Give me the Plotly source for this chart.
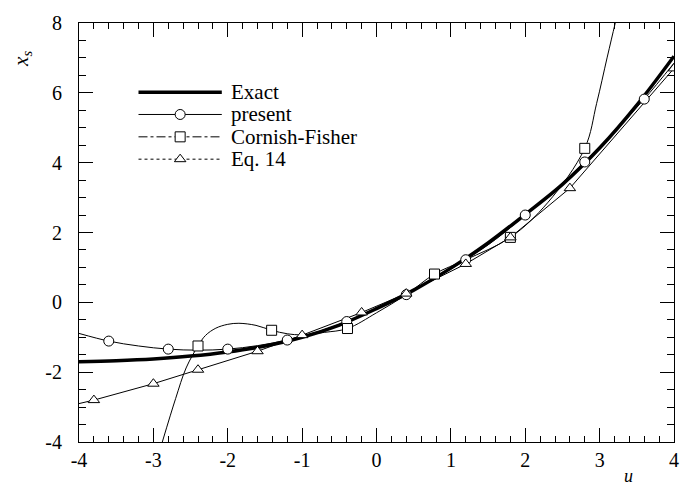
import plotly.graph_objects as go

# ---- data ----
exact_u = [-4, -3.5, -3, -2.5, -2, -1.5, -1, -0.5, 0, 0.5, 1, 1.5, 2, 2.5, 3, 3.5, 4]
exact_x = [-1.70, -1.67, -1.62, -1.54, -1.42, -1.25, -1.0, -0.65, -0.18, 0.35, 0.98, 1.70, 2.52, 3.38, 4.42, 5.65, 7.05]

present_u = [-4, -3.6, -3.2, -2.8, -2.4, -2.0, -1.6, -1.2, -0.8, -0.4, 0, 0.4, 0.8, 1.2, 1.6, 2.0, 2.4, 2.8, 3.2, 3.6, 4.0]
present_x = [-0.89, -1.11, -1.25, -1.34, -1.37, -1.34, -1.24, -1.08, -0.85, -0.55, -0.18, 0.22, 0.70, 1.22, 1.80, 2.50, 3.22, 4.02, 4.90, 5.82, 6.85]
present_mu = [-3.6, -2.8, -2.0, -1.2, -0.4, 0.4, 1.2, 2.0, 2.8, 3.6]
present_mx = [-1.11, -1.34, -1.34, -1.08, -0.55, 0.22, 1.22, 2.50, 4.02, 5.82]

cf_u = [-2.88, -2.7, -2.56, -2.4, -2.3, -2.16, -2.0, -1.85, -1.62, -1.41, -1.2, -1.0, -0.7, -0.39, 0.0, 0.4, 0.78, 1.2, 1.8, 2.3, 2.8, 2.96, 3.1, 3.21, 3.3]
cf_x = [-4.0, -2.75, -1.88, -1.25, -0.95, -0.74, -0.63, -0.60, -0.66, -0.80, -0.90, -0.93, -0.86, -0.75, -0.30, 0.22, 0.81, 1.22, 1.86, 2.85, 4.41, 5.70, 7.00, 8.00, 8.8]
cf_mu = [-2.4, -1.41, -0.39, 0.78, 1.8, 2.8]
cf_mx = [-1.25, -0.80, -0.75, 0.81, 1.86, 4.41]

eq_u = [-4.0, -3.8, -3.0, -2.4, -1.6, -1.0, -0.2, 0.4, 1.2, 1.8, 2.6, 4.0]
eq_x = [-2.90, -2.80, -2.33, -1.93, -1.40, -0.94, -0.29, 0.25, 1.10, 1.86, 3.27, 6.70]
eq_mu = [-3.8, -3.0, -2.4, -1.6, -1.0, -0.2, 0.4, 1.2, 1.8, 2.6, 4.0]
eq_mx = [-2.80, -2.33, -1.93, -1.40, -0.94, -0.29, 0.25, 1.10, 1.86, 3.27, 6.70]

x_ticks = [-4, -3, -2, -1, 0, 1, 2, 3, 4]
y_ticks = [-4, -2, 0, 2, 4, 6, 8]
legend_names = ["Exact", "present", "Cornish-Fisher", "Eq. 14"]

FONT = "Liberation Serif"
fig = go.Figure()

thin = dict(color="black", width=1)
mk = dict(color="white", size=10, line=dict(color="black", width=1))

fig.add_trace(go.Scatter(x=present_u, y=present_x, mode="lines", line=dict(shape="spline", **thin), showlegend=False))
fig.add_trace(go.Scatter(x=cf_u, y=cf_x, mode="lines", line=dict(shape="spline", **thin), showlegend=False))
fig.add_trace(go.Scatter(x=eq_u, y=eq_x, mode="lines", line=thin, showlegend=False))
fig.add_trace(go.Scatter(x=exact_u, y=exact_x, mode="lines", line=dict(color="black", width=3.5, shape="spline"), showlegend=False))
fig.add_trace(go.Scatter(x=present_mu, y=present_mx, mode="markers", marker=dict(symbol="circle", **mk), showlegend=False))
fig.add_trace(go.Scatter(x=cf_mu, y=cf_mx, mode="markers", marker=dict(symbol="square", **mk), showlegend=False))
fig.add_trace(go.Scatter(x=eq_mu, y=eq_mx, mode="markers", marker=dict(symbol="triangle-up", **mk), showlegend=False))

# ---- manual legend (data coordinates inside plot area) ----
leg_x0, leg_x1, leg_xm, leg_xt = -3.20, -2.08, -2.64, -1.98
leg_rows = [6.02, 5.38, 4.74, 4.10]
leg_widths = [3.5, 1, 1, 1]
leg_dash = ["solid", "solid", "dashdot", "dot"]
leg_symbols = [None, "circle", "square", "triangle-up"]
for name, yy, w, d, s in zip(legend_names, leg_rows, leg_widths, leg_dash, leg_symbols):
    fig.add_trace(go.Scatter(x=[leg_x0, leg_x1], y=[yy, yy], mode="lines",
                             line=dict(color="black", width=w, dash=d), showlegend=False))
    if s:
        fig.add_trace(go.Scatter(x=[leg_xm], y=[yy], mode="markers",
                                 marker=dict(symbol=s, **mk), showlegend=False))
    fig.add_annotation(x=leg_xt, y=yy, text=name, showarrow=False, xanchor="left",
                       yanchor="middle", font=dict(family=FONT, size=21, color="black"))

axis_common = dict(showgrid=False, zeroline=False, showline=True, linecolor="black", linewidth=1,
                   mirror="ticks", ticks="inside", ticklen=14, tickwidth=1, tickcolor="black",
                   tickfont=dict(family=FONT, size=20, color="black"))
fig.update_xaxes(range=[-4, 4], tickvals=x_ticks, ticktext=[str(v) for v in x_ticks],
                 minor=dict(dtick=0.2, ticks="inside", ticklen=6, tickcolor="black", tickwidth=1),
                 **axis_common)
fig.update_yaxes(range=[-4, 8], tickvals=y_ticks, ticktext=[str(v) for v in y_ticks],
                 ticklabelstandoff=12,
                 minor=dict(dtick=0.5, ticks="inside", ticklen=7, tickcolor="black", tickwidth=1),
                 **axis_common)

fig.add_annotation(xref="paper", yref="paper", x=0.923, y=-0.081, text="<i>u</i>", showarrow=False,
                   xanchor="center", yanchor="middle",
                   font=dict(family=FONT, size=18, color="black"))
fig.add_annotation(xref="paper", yref="paper", x=-0.097, y=0.915, text="<i>x</i><sub><i>s</i></sub>",
                   textangle=-90, showarrow=False, xanchor="center", yanchor="middle",
                   font=dict(family=FONT, size=21, color="black"))

fig.update_layout(width=691, height=488, margin=dict(l=79, r=13, t=18, b=46),
                  paper_bgcolor="white", plot_bgcolor="white", showlegend=False)

fig.write_html("out.html", config={"displayModeBar": False},
               post_script="document.body.style.margin='0';document.body.style.overflow='hidden';")
